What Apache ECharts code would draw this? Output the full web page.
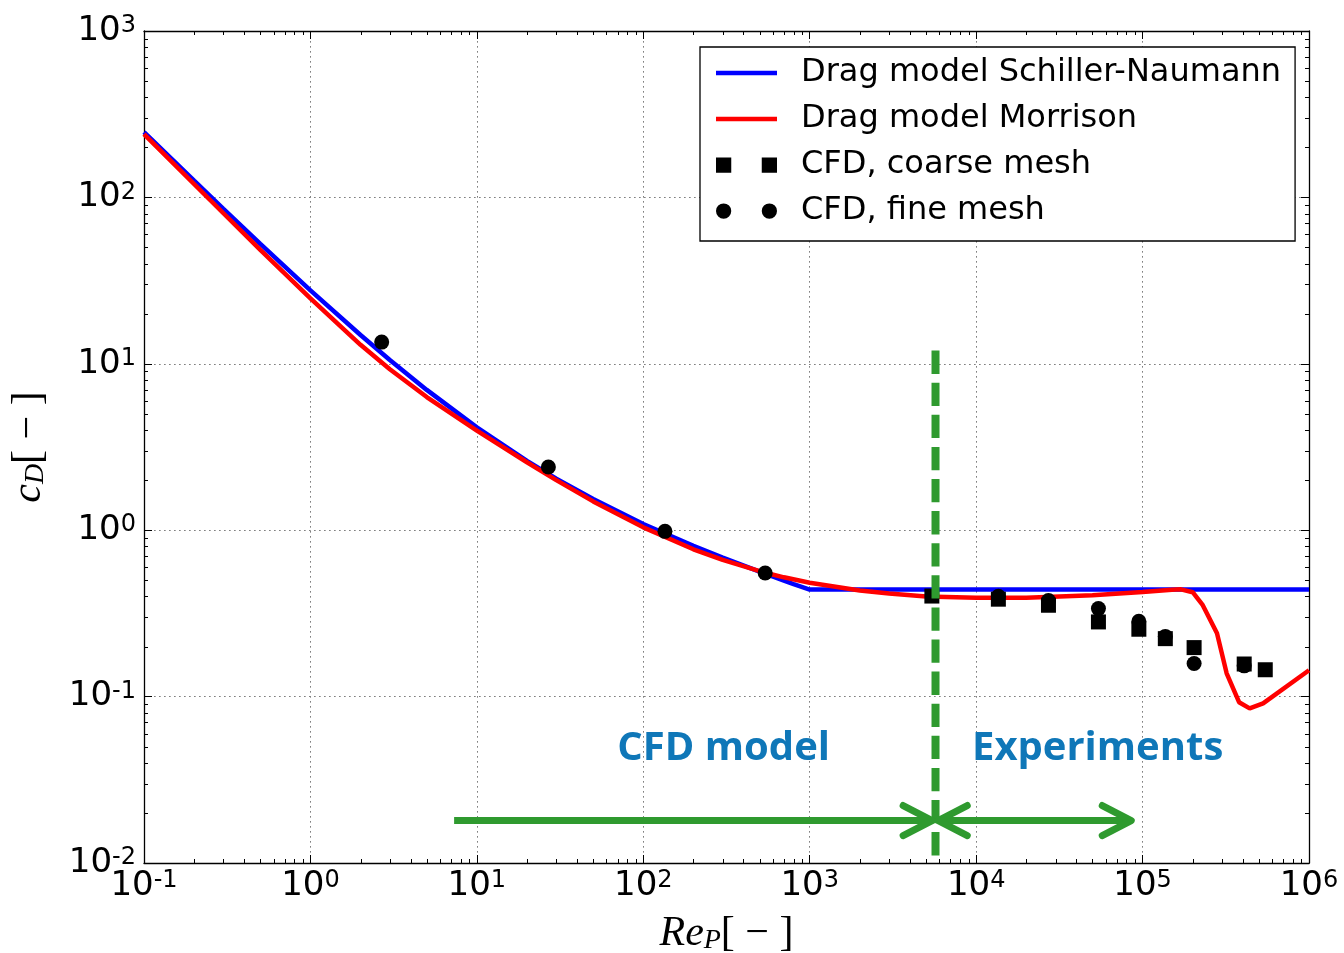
<!DOCTYPE html>
<html>
<head>
<meta charset="utf-8">
<title>Drag coefficient vs particle Reynolds number</title>
<script src="https://cdn.jsdelivr.net/npm/echarts@6/dist/echarts.min.js"></script>
<style>
  html, body { margin: 0; padding: 0; background: #fff; }
  #chart { width: 1344px; height: 953px; }
</style>
</head>
<body>
<div id="chart"></div>
<script>
// ---- Drag correlations: particle Reynolds number and drag coefficient ----
const reSchiller = [0.1, 0.2, 0.3, 0.5, 1, 2, 3, 5, 10, 20, 30, 50, 100, 200, 300, 500, 700, 800, 1000, 1e6];
const cdSchiller = [247, 126, 85.2, 52.5, 27.6, 14.9, 10.55, 6.97, 4.15, 2.61, 2.04, 1.54, 1.09, 0.806, 0.684, 0.563, 0.497, 0.474, 0.44, 0.44];

const reMorrison = [0.1, 0.3, 0.5, 1, 2, 3, 5, 10, 20, 30, 50, 100, 200, 300, 500, 700, 1000, 2000, 3000, 5000,
  1e4, 2e4, 5e4, 1e5, 1.5e5, 1.7e5, 2e5, 2.3e5, 2.8e5, 3.2e5, 3.8e5, 4.4e5, 5.3e5, 1e6];
const cdMorrison = [240, 80.3, 48.4, 24.7, 13.0, 9.28, 6.31, 3.97, 2.56, 2.0, 1.49, 1.04, 0.768, 0.663, 0.567, 0.521, 0.483, 0.434, 0.416, 0.400,
  0.393, 0.393, 0.406, 0.425, 0.438, 0.441, 0.424, 0.354, 0.24, 0.138, 0.0925, 0.085, 0.091, 0.144];

// ---- CFD results ----
const reCoarse = [5420, 13600, 27200, 54300, 95000, 137000, 204000, 408000, 546000];
const cdCoarse = [0.402, 0.385, 0.354, 0.281, 0.254, 0.223, 0.197, 0.157, 0.145];
const reFine = [2.68, 26.9, 135, 540, 13600, 27200, 54300, 95000, 137000, 204000, 408000];
const cdFine = [13.5, 2.40, 0.984, 0.553, 0.401, 0.378, 0.338, 0.2835, 0.230, 0.158, 0.153];

// ---- Range split between CFD model and experiments ----
const reSplit = 5700;
const cdSplitRange = [12, 0.0111];
// arrows: [Re start, Re end, cD level, head at start, head at end]
const arrowSpans = [
  [7.3, 5440, 0.0180, 0, 1],
  [5920, 85500, 0.0180, 1, 1]
];
const regionNames = ['CFD model', 'Experiments'];
const regionRe = [304, 53700];
const regionCd = [0.049, 0.049];

// ---- Axis ticks (powers of ten) ----
const xTickExponents = ['-1', '0', '1', '2', '3', '4', '5', '6'];
const yTickExponents = ['-2', '-1', '0', '1', '2', '3'];
const minorMultipliers = [2, 3, 4, 5, 6, 7, 8, 9];

const seriesNames = ['Drag model Schiller-Naumann', 'Drag model Morrison', 'CFD, coarse mesh', 'CFD, fine mesh'];

const green = '#2f9a2f';
const sansFont = 'DejaVu Sans';

function pairs(xs, ys) { return xs.map((x, i) => [x, ys[i]]); }

function powerLabel(exps, firstExp) {
  return function (v) {
    const e = Math.round(Math.log10(v));
    const txt = exps[e - firstExp];
    return '{b|10}{e|' + (txt !== undefined ? txt : e) + '}';
  };
}

const tickRich = {
  b: { fontFamily: sansFont, fontSize: 34, color: '#000' },
  e: { fontFamily: sansFont, fontSize: 24, color: '#000', verticalAlign: 'top' }
};

// minor log ticks on all four sides of the frame
function renderMinorTicks(params, api) {
  const cs = params.coordSys;
  const L = 4;
  const children = [];
  const st = { stroke: '#000', lineWidth: 1 };
  const x0 = parseInt(xTickExponents[0], 10), x1 = parseInt(xTickExponents[xTickExponents.length - 1], 10);
  const y0 = parseInt(yTickExponents[0], 10), y1 = parseInt(yTickExponents[yTickExponents.length - 1], 10);
  for (let k = x0; k < x1; k++) {
    for (const m of minorMultipliers) {
      const px = Math.round(api.coord([m * Math.pow(10, k), 1])[0]) + 0.5;
      children.push({ type: 'line', shape: { x1: px, y1: cs.y + cs.height, x2: px, y2: cs.y + cs.height - L }, style: st });
      children.push({ type: 'line', shape: { x1: px, y1: cs.y, x2: px, y2: cs.y + L }, style: st });
    }
  }
  for (let k = y0; k < y1; k++) {
    for (const m of minorMultipliers) {
      const py = Math.round(api.coord([1, m * Math.pow(10, k)])[1]) + 0.5;
      children.push({ type: 'line', shape: { x1: cs.x, y1: py, x2: cs.x + L, y2: py }, style: st });
      children.push({ type: 'line', shape: { x1: cs.x + cs.width, y1: py, x2: cs.x + cs.width - L, y2: py }, style: st });
    }
  }
  return { type: 'group', children: children, silent: true };
}

// horizontal arrows with open chevron heads
function renderArrow(params, api) {
  const a = api.coord([api.value(0), api.value(2)]);
  const b = api.coord([api.value(1), api.value(2)]);
  const hl = 29, hw = 15;
  const headStyle = { stroke: green, lineWidth: 7, fill: null, lineCap: 'round', lineJoin: 'round' };
  const children = [{
    type: 'line',
    shape: { x1: a[0], y1: a[1], x2: b[0], y2: b[1] },
    style: { stroke: green, lineWidth: 7, lineCap: 'butt' }
  }];
  if (api.value(3)) {
    children.push({ type: 'polyline', shape: { points: [[a[0] + hl, a[1] - hw], [a[0], a[1]], [a[0] + hl, a[1] + hw]] }, style: headStyle });
  }
  if (api.value(4)) {
    children.push({ type: 'polyline', shape: { points: [[b[0] - hl, b[1] - hw], [b[0], b[1]], [b[0] - hl, b[1] + hw]] }, style: headStyle });
  }
  return { type: 'group', children: children };
}

const squarePairIcon = 'path://M0 0H15V15H0Z M45 0H60V15H45Z';
const circlePairIcon = 'path://M0 7.5A7.5 7.5 0 1 0 15 7.5A7.5 7.5 0 1 0 0 7.5Z M45 7.5A7.5 7.5 0 1 0 60 7.5A7.5 7.5 0 1 0 45 7.5Z';
const linePairIcon = 'path://M0 0H60V4.5H0Z';

const gridLine = { show: true, lineStyle: { color: '#808080', width: 1, type: [1.7, 3.3] } };
const frameLine = { show: true, lineStyle: { color: '#000', width: 1.3 } };
const majorTick = { show: true, inside: true, length: 8, lineStyle: { color: '#000', width: 1 } };

const nameRich = {
  i: { fontFamily: 'Liberation Serif', fontStyle: 'italic', fontSize: 42, color: '#000' },
  s: { fontFamily: 'Liberation Serif', fontStyle: 'italic', fontSize: 28, color: '#000', verticalAlign: 'bottom' },
  n: { fontFamily: 'Liberation Serif', fontSize: 42, color: '#000' }
};

const option = {
  animation: false,
  backgroundColor: '#fff',
  grid: { left: 144, right: 35, top: 31, bottom: 90, containLabel: false, outerBoundsMode: 'none' },
  xAxis: [
    {
      type: 'log', logBase: 10, min: 0.1, max: 1e6, position: 'bottom',
      axisLine: frameLine, axisTick: majorTick, splitLine: gridLine,
      axisLabel: { margin: 6, formatter: powerLabel(xTickExponents, -1), rich: tickRich },
      name: '{i|Re}{s|P}{n|[ \u2212 ]}',
      nameLocation: 'middle', nameGap: 50,
      nameTextStyle: { rich: nameRich }
    },
    {
      type: 'log', logBase: 10, min: 0.1, max: 1e6, position: 'top',
      axisLine: frameLine, axisTick: majorTick, splitLine: { show: false }, axisLabel: { show: false }
    }
  ],
  yAxis: [
    {
      type: 'log', logBase: 10, min: 0.01, max: 1000, position: 'left',
      axisLine: frameLine, axisTick: majorTick, splitLine: gridLine,
      axisLabel: { margin: 8, formatter: powerLabel(yTickExponents, -2), rich: tickRich },
      name: '{i|c}{s|D}{n|[ \u2212 ]}',
      nameLocation: 'middle', nameGap: 94, nameRotate: 90,
      nameTextStyle: { rich: nameRich }
    },
    {
      type: 'log', logBase: 10, min: 0.01, max: 1000, position: 'right',
      axisLine: frameLine, axisTick: majorTick, splitLine: { show: false }, axisLabel: { show: false }
    }
  ],
  legend: {
    orient: 'vertical', left: 700, top: 47,
    padding: [10, 14, 14, 16],
    itemWidth: 61, itemHeight: 16, itemGap: 14,
    backgroundColor: '#fff', borderColor: '#000', borderWidth: 1.3, borderRadius: 0,
    symbolKeepAspect: true,
    selectedMode: false,
    itemStyle: { opacity: 1 },
    textStyle: { fontFamily: sansFont, fontSize: 32, color: '#000', lineHeight: 32, padding: [0, 0, 0, 19] },
    data: [
      { name: seriesNames[0], icon: linePairIcon },
      { name: seriesNames[1], icon: linePairIcon },
      { name: seriesNames[2], icon: squarePairIcon },
      { name: seriesNames[3], icon: circlePairIcon }
    ]
  },
  series: [
    {
      name: seriesNames[0], type: 'line', data: pairs(reSchiller, cdSchiller),
      symbol: 'none', showSymbol: false, color: '#0000ff',
      lineStyle: { color: '#0000ff', width: 4.5 }, z: 3
    },
    {
      name: seriesNames[1], type: 'line', data: pairs(reMorrison, cdMorrison),
      symbol: 'none', showSymbol: false, color: '#ff0000',
      lineStyle: { color: '#ff0000', width: 4.5 }, z: 4
    },
    {
      name: seriesNames[2], type: 'scatter', data: pairs(reCoarse, cdCoarse),
      symbol: 'rect', symbolSize: 15, color: '#000', itemStyle: { color: '#000', opacity: 1 }, z: 5
    },
    {
      name: seriesNames[3], type: 'scatter', data: pairs(reFine, cdFine),
      symbol: 'circle', symbolSize: 15, color: '#000', itemStyle: { color: '#000', opacity: 1 }, z: 5
    },
    {
      name: 'split', type: 'line', data: cdSplitRange.map(c => [reSplit, c]),
      symbol: 'none', showSymbol: false, silent: true,
      lineStyle: { color: green, width: 8, type: [23.3, 8.8], cap: 'butt', opacity: 1 }, z: 6
    },
    {
      name: 'ranges', type: 'custom', renderItem: renderArrow,
      data: arrowSpans, encode: { x: [0, 1], y: 2 }, silent: true, clip: false, z: 7
    },
    {
      name: 'regions', type: 'scatter', symbolSize: 0, silent: true, z: 7,
      itemStyle: { opacity: 1 },
      data: regionNames.map((n, i) => ({ name: n, value: [regionRe[i], regionCd[i]] })),
      label: {
        show: true, position: 'inside', formatter: '{b}', opacity: 1,
        fontFamily: 'Open Sans', fontWeight: 'bold', fontSize: 40, color: '#0f77b8'
      }
    },
    {
      name: 'minor ticks', type: 'custom', renderItem: renderMinorTicks,
      data: [[1, 1]], silent: true, clip: false, z: 8
    }
  ]
};

const chart = echarts.init(document.getElementById('chart'), null, { renderer: 'canvas' });
chart.setOption(option);
</script>
</body>
</html>
